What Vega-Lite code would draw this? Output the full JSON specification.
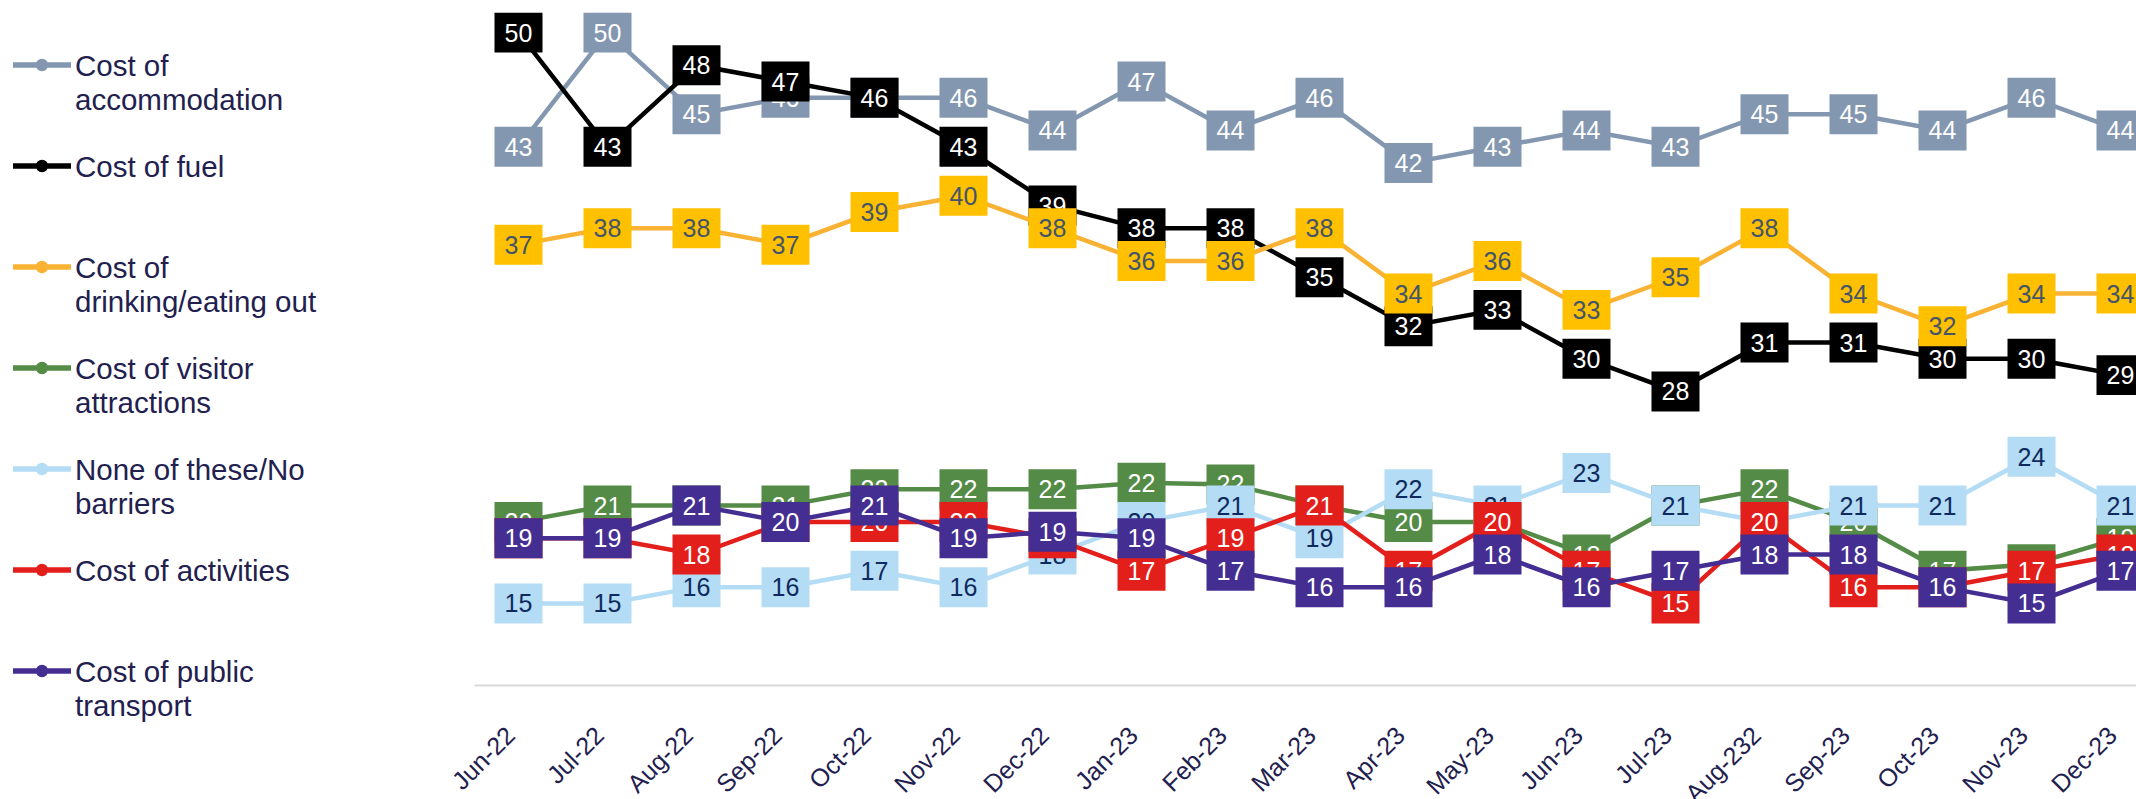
{
  "$schema": "https://vega.github.io/schema/vega-lite/v6.json",
  "autosize": {"type": "none"},
  "padding": {"left": 474, "top": 0, "right": 0, "bottom": 114},
  "width": 1662,
  "height": 685,
  "background": "white",
  "config": {"view": {"stroke": null}, "font": "Liberation Sans"},
  "data": {"values": [
    {"month":"Jun-22","series":"Cost of accommodation","value":43},{"month":"Jul-22","series":"Cost of accommodation","value":50},{"month":"Aug-22","series":"Cost of accommodation","value":45},{"month":"Sep-22","series":"Cost of accommodation","value":46},{"month":"Oct-22","series":"Cost of accommodation","value":46},{"month":"Nov-22","series":"Cost of accommodation","value":46},{"month":"Dec-22","series":"Cost of accommodation","value":44},{"month":"Jan-23","series":"Cost of accommodation","value":47},{"month":"Feb-23","series":"Cost of accommodation","value":44},{"month":"Mar-23","series":"Cost of accommodation","value":46},{"month":"Apr-23","series":"Cost of accommodation","value":42},{"month":"May-23","series":"Cost of accommodation","value":43},{"month":"Jun-23","series":"Cost of accommodation","value":44},{"month":"Jul-23","series":"Cost of accommodation","value":43},{"month":"Aug-232","series":"Cost of accommodation","value":45},{"month":"Sep-23","series":"Cost of accommodation","value":45},{"month":"Oct-23","series":"Cost of accommodation","value":44},{"month":"Nov-23","series":"Cost of accommodation","value":46},{"month":"Dec-23","series":"Cost of accommodation","value":44},
    {"month":"Jun-22","series":"Cost of fuel","value":50},{"month":"Jul-22","series":"Cost of fuel","value":43},{"month":"Aug-22","series":"Cost of fuel","value":48},{"month":"Sep-22","series":"Cost of fuel","value":47},{"month":"Oct-22","series":"Cost of fuel","value":46},{"month":"Nov-22","series":"Cost of fuel","value":43},{"month":"Dec-22","series":"Cost of fuel","value":39.4},{"month":"Jan-23","series":"Cost of fuel","value":38},{"month":"Feb-23","series":"Cost of fuel","value":38},{"month":"Mar-23","series":"Cost of fuel","value":35},{"month":"Apr-23","series":"Cost of fuel","value":32},{"month":"May-23","series":"Cost of fuel","value":33},{"month":"Jun-23","series":"Cost of fuel","value":30},{"month":"Jul-23","series":"Cost of fuel","value":28},{"month":"Aug-232","series":"Cost of fuel","value":31},{"month":"Sep-23","series":"Cost of fuel","value":31},{"month":"Oct-23","series":"Cost of fuel","value":30},{"month":"Nov-23","series":"Cost of fuel","value":30},{"month":"Dec-23","series":"Cost of fuel","value":29},
    {"month":"Jun-22","series":"Cost of drinking/eating out","value":37},{"month":"Jul-22","series":"Cost of drinking/eating out","value":38},{"month":"Aug-22","series":"Cost of drinking/eating out","value":38},{"month":"Sep-22","series":"Cost of drinking/eating out","value":37},{"month":"Oct-22","series":"Cost of drinking/eating out","value":39},{"month":"Nov-22","series":"Cost of drinking/eating out","value":40},{"month":"Dec-22","series":"Cost of drinking/eating out","value":38},{"month":"Jan-23","series":"Cost of drinking/eating out","value":36},{"month":"Feb-23","series":"Cost of drinking/eating out","value":36},{"month":"Mar-23","series":"Cost of drinking/eating out","value":38},{"month":"Apr-23","series":"Cost of drinking/eating out","value":34},{"month":"May-23","series":"Cost of drinking/eating out","value":36},{"month":"Jun-23","series":"Cost of drinking/eating out","value":33},{"month":"Jul-23","series":"Cost of drinking/eating out","value":35},{"month":"Aug-232","series":"Cost of drinking/eating out","value":38},{"month":"Sep-23","series":"Cost of drinking/eating out","value":34},{"month":"Oct-23","series":"Cost of drinking/eating out","value":32},{"month":"Nov-23","series":"Cost of drinking/eating out","value":34},{"month":"Dec-23","series":"Cost of drinking/eating out","value":34},
    {"month":"Jun-22","series":"Cost of visitor attractions","value":20},{"month":"Jul-22","series":"Cost of visitor attractions","value":21},{"month":"Aug-22","series":"Cost of visitor attractions","value":21},{"month":"Sep-22","series":"Cost of visitor attractions","value":21},{"month":"Oct-22","series":"Cost of visitor attractions","value":22},{"month":"Nov-22","series":"Cost of visitor attractions","value":22},{"month":"Dec-22","series":"Cost of visitor attractions","value":22},{"month":"Jan-23","series":"Cost of visitor attractions","value":22.4},{"month":"Feb-23","series":"Cost of visitor attractions","value":22.3},{"month":"Mar-23","series":"Cost of visitor attractions","value":21},{"month":"Apr-23","series":"Cost of visitor attractions","value":20},{"month":"May-23","series":"Cost of visitor attractions","value":20},{"month":"Jun-23","series":"Cost of visitor attractions","value":18},{"month":"Jul-23","series":"Cost of visitor attractions","value":21},{"month":"Aug-232","series":"Cost of visitor attractions","value":22},{"month":"Sep-23","series":"Cost of visitor attractions","value":20},{"month":"Oct-23","series":"Cost of visitor attractions","value":17},{"month":"Nov-23","series":"Cost of visitor attractions","value":17.4},{"month":"Dec-23","series":"Cost of visitor attractions","value":19},
    {"month":"Jun-22","series":"None of these/No barriers","value":15},{"month":"Jul-22","series":"None of these/No barriers","value":15},{"month":"Aug-22","series":"None of these/No barriers","value":16},{"month":"Sep-22","series":"None of these/No barriers","value":16},{"month":"Oct-22","series":"None of these/No barriers","value":17},{"month":"Nov-22","series":"None of these/No barriers","value":16},{"month":"Dec-22","series":"None of these/No barriers","value":18},{"month":"Jan-23","series":"None of these/No barriers","value":20},{"month":"Feb-23","series":"None of these/No barriers","value":21},{"month":"Mar-23","series":"None of these/No barriers","value":19},{"month":"Apr-23","series":"None of these/No barriers","value":22},{"month":"May-23","series":"None of these/No barriers","value":21},{"month":"Jun-23","series":"None of these/No barriers","value":23},{"month":"Jul-23","series":"None of these/No barriers","value":21},{"month":"Aug-232","series":"None of these/No barriers","value":20},{"month":"Sep-23","series":"None of these/No barriers","value":21},{"month":"Oct-23","series":"None of these/No barriers","value":21},{"month":"Nov-23","series":"None of these/No barriers","value":24},{"month":"Dec-23","series":"None of these/No barriers","value":21},
    {"month":"Jun-22","series":"Cost of activities","value":19},{"month":"Jul-22","series":"Cost of activities","value":19},{"month":"Aug-22","series":"Cost of activities","value":18},{"month":"Sep-22","series":"Cost of activities","value":20},{"month":"Oct-22","series":"Cost of activities","value":20},{"month":"Nov-22","series":"Cost of activities","value":20},{"month":"Dec-22","series":"Cost of activities","value":19},{"month":"Jan-23","series":"Cost of activities","value":17},{"month":"Feb-23","series":"Cost of activities","value":19},{"month":"Mar-23","series":"Cost of activities","value":21},{"month":"Apr-23","series":"Cost of activities","value":17},{"month":"May-23","series":"Cost of activities","value":20},{"month":"Jun-23","series":"Cost of activities","value":17},{"month":"Jul-23","series":"Cost of activities","value":15},{"month":"Aug-232","series":"Cost of activities","value":20},{"month":"Sep-23","series":"Cost of activities","value":16},{"month":"Oct-23","series":"Cost of activities","value":16},{"month":"Nov-23","series":"Cost of activities","value":17},{"month":"Dec-23","series":"Cost of activities","value":18},
    {"month":"Jun-22","series":"Cost of public transport","value":19},{"month":"Jul-22","series":"Cost of public transport","value":19},{"month":"Aug-22","series":"Cost of public transport","value":21},{"month":"Sep-22","series":"Cost of public transport","value":20},{"month":"Oct-22","series":"Cost of public transport","value":21},{"month":"Nov-22","series":"Cost of public transport","value":19},{"month":"Dec-22","series":"Cost of public transport","value":19.4},{"month":"Jan-23","series":"Cost of public transport","value":19},{"month":"Feb-23","series":"Cost of public transport","value":17},{"month":"Mar-23","series":"Cost of public transport","value":16},{"month":"Apr-23","series":"Cost of public transport","value":16},{"month":"May-23","series":"Cost of public transport","value":18},{"month":"Jun-23","series":"Cost of public transport","value":16},{"month":"Jul-23","series":"Cost of public transport","value":17},{"month":"Aug-232","series":"Cost of public transport","value":18},{"month":"Sep-23","series":"Cost of public transport","value":18},{"month":"Oct-23","series":"Cost of public transport","value":16},{"month":"Nov-23","series":"Cost of public transport","value":15},{"month":"Dec-23","series":"Cost of public transport","value":17}
  ]},
  "encoding": {
    "x": {"field": "month", "type": "ordinal",
      "sort": ["Jun-22","Jul-22","Aug-22","Sep-22","Oct-22","Nov-22","Dec-22","Jan-23","Feb-23","Mar-23","Apr-23","May-23","Jun-23","Jul-23","Aug-232","Sep-23","Oct-23","Nov-23","Dec-23"],
      "scale": {"type": "point", "padding": 0.5, "range": [0, 1691]},
      "axis": {"title": null, "ticks": false, "tickSize": 0, "grid": false, "domainColor": "#d9d9d9", "domainWidth": 2,
        "labelAngle": -45, "labelAlign": "right", "labelBaseline": "middle", "labelFontSize": 25, "labelFont": "Liberation Sans",
        "labelColor": "#22204e", "labelPadding": 46, "labelOffset": -8}},
    "y": {"field": "value", "type": "quantitative", "scale": {"domain": [10, 52], "nice": false, "zero": false}, "axis": null}
  },
  "layer": [
    {"transform": [{"filter": "datum.series == 'Cost of accommodation'"}], "mark": {"type": "line", "strokeWidth": 4.5},
     "encoding": {"color": {"field": "series", "type": "nominal",
       "scale": {"domain": ["Cost of accommodation","Cost of fuel","Cost of drinking/eating out","Cost of visitor attractions","None of these/No barriers","Cost of activities","Cost of public transport"], "range": ["#8497b0","#000000","#f9b233","#548b46","#b4dcf5","#e31f1b","#452e91"]},
       "legend": {"orient": "none", "legendX": -464, "legendY": 33, "title": null, "padding": 0, "columns": 1, "gridAlign": "all", "rowPadding": 18,
         "symbolType": "M-1,0L1,0M-0.12,0A0.12,0.12 0 1,0 0.12,0A0.12,0.12 0 1,0 -0.12,0", "symbolSize": 3364, "symbolStrokeWidth": 5.5,
         "labelFontSize": 29.5, "labelFont": "Liberation Sans", "labelColor": "#22204e", "labelLimit": 0, "labelOffset": 1, "labelBaseline": "top",
         "labelExpr": "datum.label == 'Cost of accommodation' ? ['Cost of', 'accommodation'] : datum.label == 'Cost of drinking/eating out' ? ['Cost of', 'drinking/eating out'] : datum.label == 'Cost of visitor attractions' ? ['Cost of visitor', 'attractions'] : datum.label == 'None of these/No barriers' ? ['None of these/No', 'barriers'] : datum.label == 'Cost of public transport' ? ['Cost of public', 'transport'] : datum.label",
         "encode": {"labels": {"update": {"lineHeight": {"value": 34}, "dy": {"value": -12}}}}}}}},
    {"transform": [{"filter": "datum.series == 'Cost of accommodation'"}], "mark": {"type": "point", "shape": "M-1,-0.833L1,-0.833L1,0.833L-1,0.833Z", "size": 2304, "filled": true, "fill": "#8497b0", "opacity": 1, "strokeWidth": 0}},
    {"transform": [{"filter": "datum.series == 'Cost of accommodation'"}], "mark": {"type": "text", "fontSize": 25, "font": "Liberation Sans", "color": "#ffffff", "dy": 1}, "encoding": {"text": {"field": "value", "format": ".0f"}}},

    {"transform": [{"filter": "datum.series == 'Cost of fuel'"}], "mark": {"type": "line", "strokeWidth": 4.5},
     "encoding": {"color": {"field": "series", "type": "nominal"}}},
    {"transform": [{"filter": "datum.series == 'Cost of fuel'"}], "mark": {"type": "point", "shape": "M-1,-0.833L1,-0.833L1,0.833L-1,0.833Z", "size": 2304, "filled": true, "fill": "#000000", "opacity": 1, "strokeWidth": 0}},
    {"transform": [{"filter": "datum.series == 'Cost of fuel'"}], "mark": {"type": "text", "fontSize": 25, "font": "Liberation Sans", "color": "#ffffff", "dy": 1}, "encoding": {"text": {"field": "value", "format": ".0f"}}},

    {"transform": [{"filter": "datum.series == 'Cost of drinking/eating out'"}], "mark": {"type": "line", "strokeWidth": 4.5},
     "encoding": {"color": {"field": "series", "type": "nominal"}}},
    {"transform": [{"filter": "datum.series == 'Cost of drinking/eating out'"}], "mark": {"type": "point", "shape": "M-1,-0.833L1,-0.833L1,0.833L-1,0.833Z", "size": 2304, "filled": true, "fill": "#ffc000", "opacity": 1, "strokeWidth": 0}},
    {"transform": [{"filter": "datum.series == 'Cost of drinking/eating out'"}], "mark": {"type": "text", "fontSize": 25, "font": "Liberation Sans", "color": "#44546a", "dy": 1}, "encoding": {"text": {"field": "value", "format": ".0f"}}},

    {"transform": [{"filter": "datum.series == 'Cost of visitor attractions'"}], "mark": {"type": "line", "strokeWidth": 4.5},
     "encoding": {"color": {"field": "series", "type": "nominal"}}},
    {"transform": [{"filter": "datum.series == 'Cost of visitor attractions'"}], "mark": {"type": "point", "shape": "M-1,-0.833L1,-0.833L1,0.833L-1,0.833Z", "size": 2304, "filled": true, "fill": "#548b46", "opacity": 1, "strokeWidth": 0}},
    {"transform": [{"filter": "datum.series == 'Cost of visitor attractions'"}], "mark": {"type": "text", "fontSize": 25, "font": "Liberation Sans", "color": "#ffffff", "dy": 1}, "encoding": {"text": {"field": "value", "format": ".0f"}}},

    {"transform": [{"filter": "datum.series == 'None of these/No barriers'"}], "mark": {"type": "line", "strokeWidth": 4.5},
     "encoding": {"color": {"field": "series", "type": "nominal"}}},
    {"transform": [{"filter": "datum.series == 'None of these/No barriers'"}], "mark": {"type": "point", "shape": "M-1,-0.833L1,-0.833L1,0.833L-1,0.833Z", "size": 2304, "filled": true, "fill": "#b4dcf5", "opacity": 1, "strokeWidth": 0}},
    {"transform": [{"filter": "datum.series == 'None of these/No barriers'"}], "mark": {"type": "text", "fontSize": 25, "font": "Liberation Sans", "color": "#0e2a5e", "dy": 1}, "encoding": {"text": {"field": "value", "format": ".0f"}}},

    {"transform": [{"filter": "datum.series == 'Cost of activities'"}], "mark": {"type": "line", "strokeWidth": 4.5},
     "encoding": {"color": {"field": "series", "type": "nominal"}}},
    {"transform": [{"filter": "datum.series == 'Cost of activities'"}], "mark": {"type": "point", "shape": "M-1,-0.833L1,-0.833L1,0.833L-1,0.833Z", "size": 2304, "filled": true, "fill": "#e31f1b", "opacity": 1, "strokeWidth": 0}},
    {"transform": [{"filter": "datum.series == 'Cost of activities'"}], "mark": {"type": "text", "fontSize": 25, "font": "Liberation Sans", "color": "#ffffff", "dy": 1}, "encoding": {"text": {"field": "value", "format": ".0f"}}},

    {"transform": [{"filter": "datum.series == 'Cost of public transport'"}], "mark": {"type": "line", "strokeWidth": 4.5},
     "encoding": {"color": {"field": "series", "type": "nominal"}}},
    {"transform": [{"filter": "datum.series == 'Cost of public transport'"}], "mark": {"type": "point", "shape": "M-1,-0.833L1,-0.833L1,0.833L-1,0.833Z", "size": 2304, "filled": true, "fill": "#452e91", "opacity": 1, "strokeWidth": 0}},
    {"transform": [{"filter": "datum.series == 'Cost of public transport'"}], "mark": {"type": "text", "fontSize": 25, "font": "Liberation Sans", "color": "#ffffff", "dy": 1}, "encoding": {"text": {"field": "value", "format": ".0f"}}}
  ]
}
